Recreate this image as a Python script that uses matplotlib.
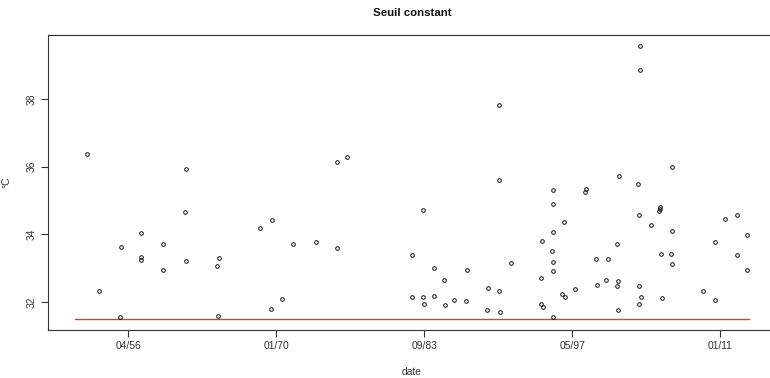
import matplotlib
matplotlib.use("Agg")
import matplotlib.pyplot as plt

# ---- data (decimal years, °C) ----
dates = [1952.52, 1953.63, 1955.60, 1955.57, 1957.53, 1957.53, 1957.53, 1959.54, 1959.54,
         1961.66, 1961.51, 1961.66, 1964.71, 1964.55, 1964.62, 1968.52, 1969.63, 1969.54,
         1970.53, 1971.57, 1973.64, 1975.63, 1975.63, 1976.53, 1982.56, 1982.56, 1983.57,
         1983.57, 1983.62, 1984.56, 1984.56, 1985.51, 1985.60, 1986.47, 1987.52, 1987.67,
         1989.58, 1989.52, 1990.56, 1990.68, 1990.56, 1990.63, 1991.67, 1994.53, 1994.53,
         1994.63, 1994.60, 1995.58, 1995.64, 1996.59, 1995.58, 1995.52, 1995.58, 1995.64,
         1995.58, 1996.47, 1996.69, 1997.65, 1998.53, 1998.69, 1999.58, 1999.64, 2000.54,
         2000.66, 2001.49, 2001.62, 2001.55, 2001.62, 2001.71, 2003.46, 2003.52, 2003.52,
         2003.70, 2003.52, 2003.61, 2003.61, 2004.66, 2005.50, 2005.53, 2005.45, 2005.55,
         2005.71, 2006.51, 2006.58, 2006.58, 2006.58, 2009.52, 2010.57, 2010.57, 2011.52,
         2012.63, 2012.63, 2013.58, 2013.58]
temps = [36.36, 32.32, 33.64, 31.57, 34.04, 33.34, 33.24, 33.71, 32.96,
         35.93, 34.67, 33.22, 33.31, 33.07, 31.60, 34.19, 34.41, 31.80,
         32.09, 33.73, 33.76, 33.61, 36.13, 36.29, 33.40, 32.14, 34.71,
         32.16, 31.94, 33.00, 32.18, 32.64, 31.92, 32.06, 32.02, 32.96,
         32.42, 31.77, 32.32, 31.71, 35.61, 37.83, 33.14, 32.70, 31.95,
         31.87, 33.81, 35.31, 34.91, 34.35, 34.07, 33.52, 33.19, 32.92,
         31.57, 32.25, 32.16, 32.40, 35.26, 35.33, 33.27, 32.52, 32.65,
         33.27, 33.71, 32.61, 32.48, 31.77, 35.71, 35.49, 34.58, 32.47,
         32.16, 31.95, 39.56, 38.85, 34.29, 34.80, 34.75, 34.68, 33.43,
         32.12, 33.43, 33.12, 34.11, 35.99, 32.32, 33.76, 32.07, 34.46,
         34.58, 33.38, 33.97, 32.96]

seuil = 31.5
seuil_debut = 1951.35
seuil_fin = 2013.77

# x ticks at -5000, 0, 5000, 10000, 15000 days from 1970-01-01
tick_days = [-5000, 0, 5000, 10000, 15000]
tick_labels = ["04/56", "01/70", "09/83", "05/97", "01/11"]
y_ticks = [32, 34, 36, 38]

title = "Seuil constant"
xlabel = "date"
ylabel = "°C"

# ---- figure ----
plt.rcParams['font.family'] = ['Liberation Sans', 'DejaVu Sans']
W, H = 770, 378
fig = plt.figure(figsize=(W / 100, H / 100), dpi=100)
ax_l, ax_r, ax_t, ax_b = 47.7, 776.4, 35.0, 330.0
ax = fig.add_axes([ax_l / W, 1 - ax_b / H, (ax_r - ax_l) / W, (ax_b - ax_t) / H])

ax.plot([seuil_debut, seuil_fin], [seuil, seuil], color='#e23a3a', lw=1.0, zorder=2)
ax.plot(dates, temps, linestyle='none', marker='o', ms=2.6, mfc='none',
        mec='#111111', mew=0.7, zorder=3)

xr = seuil_fin - seuil_debut
ax.set_xlim(seuil_debut - 0.04 * xr, seuil_fin + 0.04 * xr)
ymin, ymax = seuil, max(temps)
yr = ymax - ymin
ax.set_ylim(ymin - 0.04 * yr, ymax + 0.04 * yr)

ax.set_xticks([1970 + d / 365.25 for d in tick_days])
ax.set_xticklabels(tick_labels)
ax.set_yticks(y_ticks)
ax.set_yticklabels([str(v) for v in y_ticks], rotation=90, va='center')

for s in ax.spines.values():
    s.set_color('#333333')
    s.set_linewidth(0.8)
ax.tick_params(axis='both', length=5.2, width=0.8, color='#333333',
               labelsize=7.4, labelcolor='#333333', pad=3.0)

ax.set_xlabel(xlabel, fontsize=7.4, color='#333333', va='center')
ax.xaxis.set_label_coords(0.5, -41.7 / (ax_b - ax_t))
ax.set_ylabel(ylabel, fontsize=7.4, color='#333333', va='center')
ax.yaxis.set_label_coords(-(ax_l - 6.7) / (ax_r - ax_l), 0.5)

fig.text(412 / W, 1 - 13.3 / H, title, ha='center', va='center',
         fontsize=8.2, fontweight='bold', color='#111111')

fig.savefig("out.png", dpi=100)
